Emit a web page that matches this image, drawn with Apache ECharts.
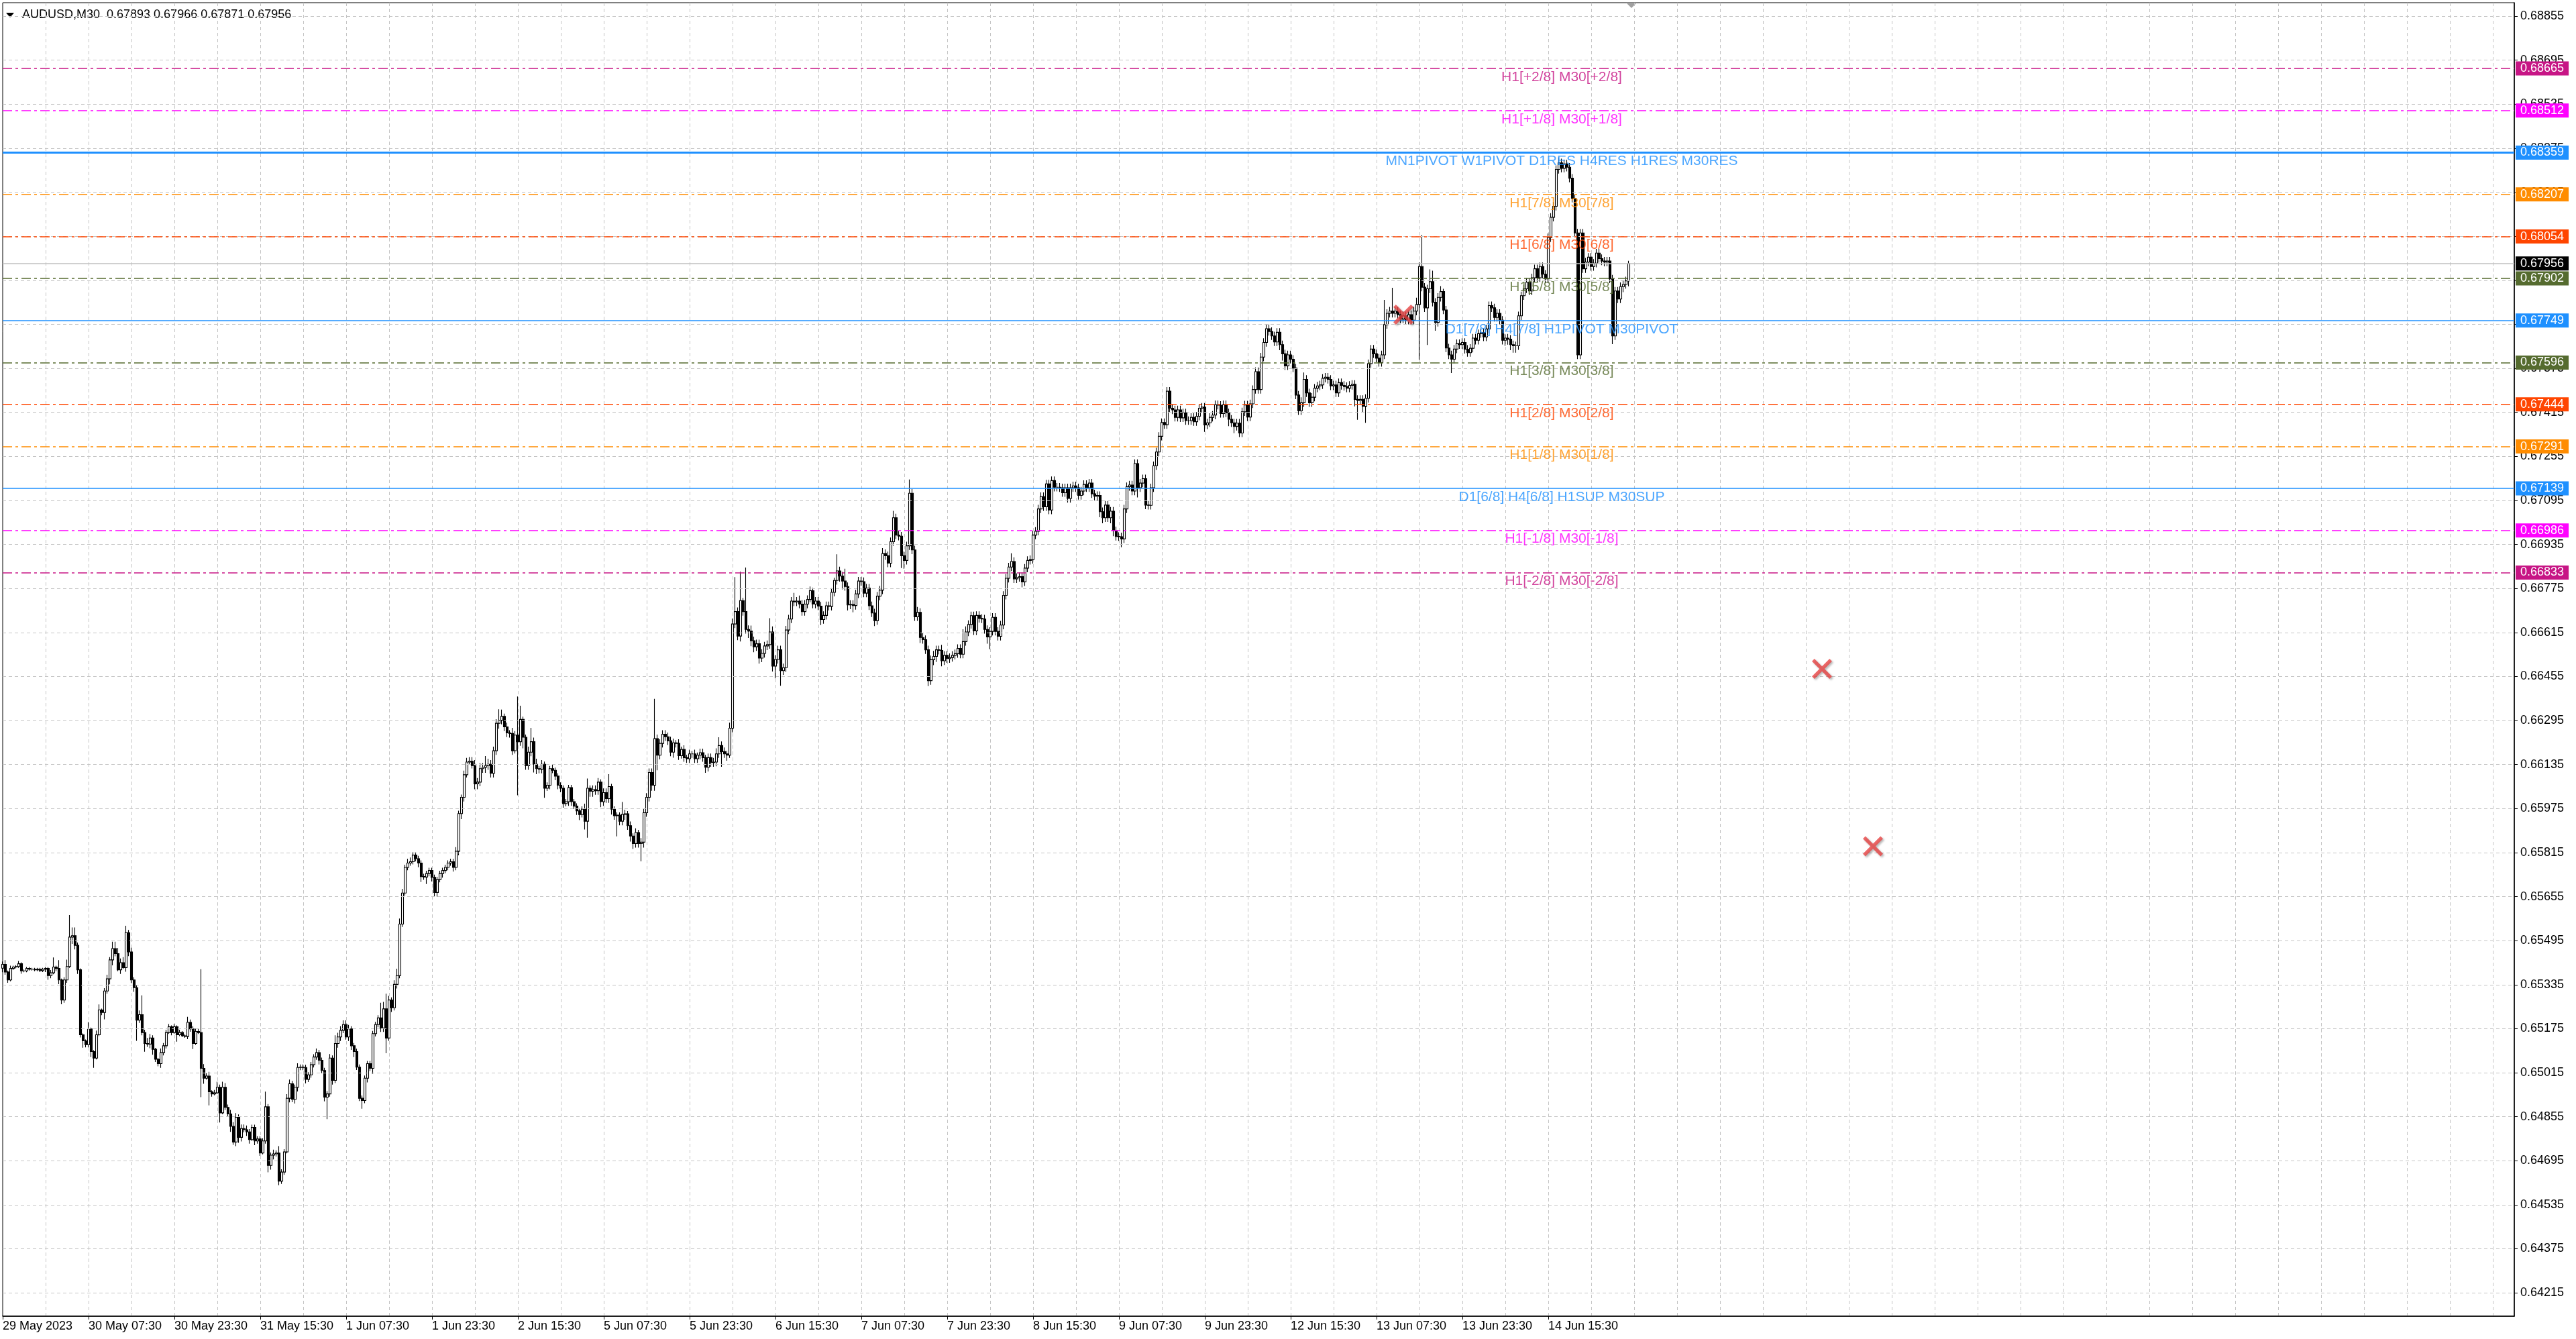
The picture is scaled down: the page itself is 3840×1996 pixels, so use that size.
<!DOCTYPE html>
<html>
<head>
<meta charset="utf-8">
<title>AUDUSD,M30</title>
<script src="https://cdn.jsdelivr.net/npm/echarts@6/dist/echarts.min.js"></script>
<style>
    html, body { margin: 0; padding: 0; background: #fff; }
    #chart { width: 3840px; height: 1996px; }
</style>
</head>
<body>
<div id="chart"></div>
<script>
// header of the chart window
var symbolName = 'AUDUSD,M30';
var headerOhlc = [0.67893, 0.67966, 0.67871, 0.67956];

// M30 bars, prices in 1e-5 units; open of a bar = close of the previous bar
var firstOpen = 65395;
var closes = [
    65409, 65381, 65352, 65394, 65399, 65401, 65411, 65385, 65385, 65394,
    65391, 65391, 65389, 65391, 65386, 65391, 65394, 65368, 65378, 65399,
    65394, 65352, 65279, 65352, 65401, 65508, 65513, 65478, 65389, 65153,
    65131, 65117, 65174, 65092, 65068, 65153, 65243, 65234, 65312, 65356,
    65425, 65466, 65448, 65389, 65415, 65397, 65524, 65454, 65352, 65324,
    65206, 65226, 65161, 65121, 65119, 65141, 65100, 65064, 65048, 65088,
    65113, 65161, 65182, 65161, 65182, 65153, 65161, 65149, 65147, 65198,
    65174, 65121, 65165, 65161, 65031, 64995, 65003, 64946, 64938, 64942,
    64962, 64869, 64962, 64889, 64865, 64820, 64763, 64853, 64780, 64812,
    64808, 64800, 64772, 64816, 64767, 64774, 64723, 64767, 64891, 64678,
    64715, 64720, 64723, 64621, 64654, 64727, 64922, 64975, 64918, 64962,
    65034, 65035, 65034, 64991, 65007, 65044, 65072, 65088, 65060, 65023,
    64926, 64938, 65068, 64987, 65121, 65145, 65169, 65190, 65145, 65174,
    65113, 65092, 65035, 64922, 64914, 64995, 65048, 65031, 65157, 65190,
    65214, 65178, 65247, 65141, 65279, 65251, 65336, 65368, 65555, 65668,
    65761, 65777, 65782, 65806, 65793, 65777, 65728, 65726, 65739, 65750,
    65725, 65670, 65717, 65739, 65750, 65761, 65777, 65782, 65761, 65820,
    65957, 66016, 66098, 66144, 66147, 66131, 66065, 66071, 66120, 66125,
    66131, 66136, 66103, 66185, 66285, 66296, 66310, 66272, 66250, 66248,
    66185, 66242, 66218, 66299, 66234, 66131, 66180, 66218, 66136, 66120,
    66118, 66136, 66049, 66060, 66120, 66114, 66093, 66060, 66049, 65993,
    66000, 66051, 66000, 65984, 65967, 65953, 65973, 65929, 66049, 66038,
    66044, 66040, 66071, 66000, 66033, 66011, 66055, 65973, 65949, 65951,
    65929, 65954, 65956, 65913, 65875, 65848, 65888, 65848, 65853, 65960,
    66016, 66106, 66060, 66229, 66169, 66212, 66245, 66236, 66221, 66180,
    66214, 66212, 66167, 66190, 66160, 66156, 66174, 66174, 66156, 66169,
    66178, 66160, 66125, 66160, 66142, 66144, 66174, 66204, 66182, 66174,
    66169, 66267, 66646, 66691, 66602, 66731, 66691, 66626, 66620, 66585,
    66563, 66574, 66522, 66539, 66566, 66571, 66617, 66493, 66517, 66552,
    66476, 66487, 66624, 66664, 66729, 66726, 66729, 66718, 66691, 66718,
    66735, 66767, 66718, 66729, 66711, 66662, 66677, 66712, 66710, 66761,
    66804, 66839, 66820, 66802, 66782, 66715, 66717, 66713, 66755, 66802,
    66800, 66758, 66776, 66712, 66686, 66658, 66747, 66769, 66902, 66894,
    66867, 66945, 67032, 66969, 66965, 66894, 66877, 66930, 67121, 66915,
    66672, 66688, 66597, 66589, 66552, 66440, 66516, 66528, 66552, 66550,
    66512, 66532, 66520, 66524, 66532, 66538, 66557, 66536, 66582, 66617,
    66644, 66676, 66621, 66677, 66666, 66664, 66626, 66599, 66619, 66670,
    66619, 66601, 66642, 66750, 66812, 66853, 66873, 66810, 66815, 66818,
    66799, 66849, 66877, 66880, 66969, 66983, 67064, 67109, 67072, 67155,
    67060, 67167, 67143, 67143, 67141, 67123, 67141, 67102, 67141, 67148,
    67141, 67113, 67129, 67153, 67141, 67158, 67119, 67110, 67113, 67054,
    67032, 67078, 67032, 67056, 66985, 66964, 66963, 66955, 67064, 67145,
    67151, 67129, 67229, 67141, 67158, 67174, 67078, 67077, 67141, 67221,
    67271, 67328, 67378, 67370, 67492, 67430, 67424, 67397, 67424, 67395,
    67413, 67385, 67385, 67397, 67381, 67401, 67430, 67434, 67369, 67377,
    67397, 67405, 67443, 67441, 67411, 67443, 67413, 67390, 67377, 67364,
    67376, 67340, 67417, 67442, 67398, 67446, 67498, 67563, 67498, 67616,
    67669, 67719, 67709, 67693, 67671, 67706, 67661, 67628, 67584, 67624,
    67608, 67576, 67478, 67421, 67450, 67535, 67486, 67450, 67470, 67503,
    67511, 67515, 67539, 67543, 67535, 67511, 67515, 67486, 67523, 67513,
    67509, 67503, 67513, 67517, 67462, 67458, 67462, 67437, 67466, 67592,
    67645, 67628, 67612, 67596, 67624, 67734, 67775, 67783, 67775, 67783,
    67770, 67754, 67766, 67750, 67770, 67750, 67783, 67807, 67945, 67870,
    67795, 67864, 67890, 67815, 67742, 67833, 67854, 67787, 67649, 67624,
    67608, 67645, 67665, 67661, 67669, 67644, 67632, 67648, 67685, 67677,
    67701, 67705, 67689, 67718, 67803, 67795, 67760, 67775, 67750, 67677,
    67685, 67681, 67661, 67657, 67657, 67766, 67839, 67864, 67888, 67856,
    67904, 67937, 67904, 67945, 67917, 67900, 68050, 68124, 68164, 68298,
    68322, 68302, 68318, 68306, 68266, 68193, 68067, 67624, 68067, 67937,
    67961, 67979, 67945, 67957, 67994, 67974, 67965, 67961, 67965, 67900,
    67693, 67856, 67827, 67872, 67880, 67893, 67956
];
// wick lengths above / below the body, one character per bar, in steps of 0.00005
var wickUp = [
    '2312112111', '1111111127', '16125g6621', '1151134123', '2554345232', '23e2432113',
    '2221212114', '2222K32312', '4243233323', '33222222b2', '2325223322', '3222222322',
    '2232633333', '2222222222', '2b5b323543', '2332222222', '2222222223', '2233334343',
    '7433385232', '43sa224a34', '2322232222', '2222222472', '3332339222', '2932323233',
    '333t333333', '3232323232', '3323334633', '244p3l2w34', '333333a433', '3333363433',
    '3323333333', '2c33933333', '3333333343', '33533333a3', '3433333433', '4333333394',
    '3333333333', '3333336333', '3333333333', '3333333333', '3333333333', '3333333333',
    '3333333333', '3333333333', '3333333333', '3333333333', '3333333333', '3333333333',
    '3333453333', '3333333333', '3333333333', '33333i33h3', '333333353n', '3398334233',
    '3333333333', '3333333333', '3333333333', '3333333333', '4333333333', '3333333333',
    '3333332'
].join('');
var wickDown = [
    '3221111211', '1111112321', '2332215332', '5224711252', '4421313323', 'f226234223',
    '2212151112', '2411l41a21', '1712242343', '2331322125', '3323221323', '3223222232',
    '3g23233223', '3422623242', '233b232322', '2222234252', '3332322232', '3432224433',
    '4333343333', '32D3833364', '3372323333', '23323426c4', '433433343f', '33434433d4',
    '3344b33333', '4332333333', '33433333b3', '4233343354', '4343333493', 'b333333333',
    '3233343333', '3346343533', '3333343333', '3333396333', '3343343443', '4333333333',
    '3333333593', '3333333333', '4333333333', '3333333333', '3333333334', '4334433633',
    '3337333333', '3333333333', '3333333353', '3333333535', '3333333333', '3333334533',
    '3333333333', '3333333333', '33335e34c3', '3333333333', '33333333E3', '3r33633333',
    'a333333333', '3333333333', '4445533333', '3333333333', '3333333333', '3333333333',
    '6333434'
].join('');
var wickDigits = '0123456789abcdefghijklmnopqrstuvwxyzABCDEFGHIJKLMNOPQRSTUVWXYZ';
var wickStep = 5;

// time axis: one label every 32 bars, grid every 16 bars
var tickLabels = ['29 May 2023', '30 May 07:30', '30 May 23:30', '31 May 15:30', '1 Jun 07:30', '1 Jun 23:30',
    '2 Jun 15:30', '5 Jun 07:30', '5 Jun 23:30', '6 Jun 15:30', '7 Jun 07:30', '7 Jun 23:30', '8 Jun 15:30',
    '9 Jun 07:30', '9 Jun 23:30', '12 Jun 15:30', '13 Jun 07:30', '13 Jun 23:30', '14 Jun 15:30'];
var labelEvery = 32;
var gridEvery = 16;
var slotCount = 937;

// price axis
var priceMin = 0.64130;
var priceMax = 0.68904;
var priceTicks = [0.64215, 0.64375, 0.64535, 0.64695, 0.64855, 0.65015, 0.65175, 0.65335, 0.65495, 0.65655,
    0.65815, 0.65975, 0.66135, 0.66295, 0.66455, 0.66615, 0.66775, 0.66935, 0.67095, 0.67255,
    0.67415, 0.67575, 0.67735, 0.67895, 0.68055, 0.68215, 0.68375, 0.68535, 0.68695, 0.68855];

// murrey / pivot levels
var levelValues = [0.68665, 0.68512, 0.68359, 0.68207, 0.68054, 0.67902, 0.67749, 0.67596, 0.67444, 0.67291, 0.67139, 0.66986, 0.66833];
var levelNames = ['H1[+2/8] M30[+2/8]', 'H1[+1/8] M30[+1/8]', 'MN1PIVOT W1PIVOT D1RES H4RES H1RES M30RES',
    'H1[7/8] M30[7/8]', 'H1[6/8] M30[6/8]', 'H1[5/8] M30[5/8]', 'D1[7/8] H4[7/8] H1PIVOT M30PIVOT',
    'H1[3/8] M30[3/8]', 'H1[2/8] M30[2/8]', 'H1[1/8] M30[1/8]', 'D1[6/8] H4[6/8] H1SUP M30SUP',
    'H1[-1/8] M30[-1/8]', 'H1[-2/8] M30[-2/8]'];
var levelColors = ['#C71585', '#FF00FF', '#1E90FF', '#FF8C00', '#FF4500', '#556B2F', '#1E90FF',
    '#556B2F', '#FF4500', '#FF8C00', '#1E90FF', '#FF00FF', '#C71585'];
var levelSolid = [false, false, true, false, false, false, true, false, false, false, true, false, false];
var levelWidths = [1.5, 1.5, 3, 1.5, 1.5, 1.5, 1.5, 1.5, 1.5, 1.5, 1.5, 1.5, 1.5];
var levelTextSlot = 581;
var bidPrice = 0.67956;

// red cross marks [bar slot, price]
var crosses = [[522, 0.67770], [678, 0.66483], [697, 0.65838]];

var FONT = '"Liberation Sans", Arial, sans-serif';

function wick(str, i) {
    var k = wickDigits.indexOf(str.charAt(i));
    return k < 0 ? 0 : k * wickStep;
}

var candles = [];
for (var i = 0; i < closes.length; i++) {
    var o = i === 0 ? firstOpen : closes[i - 1];
    var c = closes[i];
    var hi = Math.max(o, c) + wick(wickUp, i);
    var lo = Math.min(o, c) - wick(wickDown, i);
    candles.push([o / 1e5, c / 1e5, lo / 1e5, hi / 1e5]);
}

var slots = [];
for (var s = 0; s < slotCount; s++) {
    slots.push(String(s));
}

var gridLines = priceTicks.map(function (v) {
    return {yAxis: v};
});

var levelLines = levelValues.map(function (v, k) {
    return {
        yAxis: v,
        lineStyle: {
            color: levelColors[k],
            width: levelWidths[k],
            type: levelSolid[k] ? 'solid' : [14, 5, 4, 5]
        },
        label: {
            formatter: v.toFixed(5),
            backgroundColor: levelColors[k]
        }
    };
});
levelLines.push({
    yAxis: bidPrice,
    lineStyle: {color: '#C0C0C0', width: 1.5, type: 'solid'},
    label: {formatter: bidPrice.toFixed(5), backgroundColor: '#000'}
});

var levelTexts = levelValues.map(function (v, k) {
    return {
        value: [levelTextSlot, v],
        label: {color: levelColors[k], formatter: levelNames[k]}
    };
});

var chart = echarts.init(document.getElementById('chart'));
var option = {
    animation: false,
    backgroundColor: '#fff',
    grid: {
        left: 4,
        right: 92,
        top: 4,
        bottom: 34,
        show: true,
        borderColor: '#000',
        borderWidth: 1
    },
    xAxis: {
        type: 'category',
        data: slots,
        boundaryGap: false,
        axisLine: {lineStyle: {color: '#000', width: 1.5}},
        axisTick: {
            length: 5,
            lineStyle: {color: '#000'},
            interval: function (index) {
                return index % labelEvery === 0 && index / labelEvery < tickLabels.length;
            }
        },
        axisLabel: {
            interval: function (index) {
                return index % labelEvery === 0 && index / labelEvery < tickLabels.length;
            },
            formatter: function (value, index) {
                return tickLabels[index / labelEvery] || '';
            },
            align: 'left',
            margin: 6,
            color: '#000',
            fontSize: 18,
            fontFamily: FONT
        },
        splitLine: {
            show: true,
            interval: function (index) {
                return index > 0 && index % gridEvery === 0;
            },
            lineStyle: {color: '#C4C4C4', width: 1, type: [5, 4]}
        }
    },
    yAxis: {
        type: 'value',
        position: 'right',
        min: priceMin,
        max: priceMax,
        axisLine: {show: true, lineStyle: {color: '#000', width: 1.5}},
        axisTick: {show: true, length: 5, lineStyle: {color: '#000'}, customValues: priceTicks},
        axisLabel: {
            customValues: priceTicks,
            margin: 9,
            color: '#000',
            fontSize: 18,
            fontFamily: FONT,
            formatter: function (v) {
                return v.toFixed(5);
            }
        },
        splitLine: {show: false}
    },
    series: [
        {
            // horizontal grid
            type: 'line',
            data: [],
            z: 1,
            silent: true,
            markLine: {
                silent: true,
                precision: 5,
                symbol: ['none', 'none'],
                label: {show: false},
                lineStyle: {color: '#C4C4C4', width: 1, type: [5, 4]},
                data: gridLines
            }
        },
        {
            type: 'candlestick',
            data: candles,
            z: 3,
            barWidth: 2.6,
            large: false,
            itemStyle: {
                color: '#fff',
                color0: '#000',
                borderColor: '#000',
                borderColor0: '#000',
                borderWidth: 1.1
            }
        },
        {
            // levels with price tags
            type: 'line',
            data: [],
            z: 4,
            silent: true,
            markLine: {
                silent: true,
                precision: 5,
                symbol: ['none', 'none'],
                label: {
                    show: true,
                    position: 'end',
                    distance: 2,
                    color: '#fff',
                    fontSize: 18,
                    fontFamily: FONT,
                    padding: [2, 7, 1, 7]
                },
                data: levelLines
            }
        },
        {
            type: 'scatter',
            data: levelTexts,
            z: 5,
            silent: true,
            symbolSize: 1,
            itemStyle: {color: 'rgba(0,0,0,0)'},
            label: {
                show: true,
                position: 'bottom',
                distance: 2,
                fontSize: 21,
                fontFamily: FONT
            }
        },
        {
            type: 'scatter',
            data: crosses,
            z: 6,
            silent: true,
            symbol: 'path://M0,2.5 L2.5,0 L10,7.5 L17.5,0 L20,2.5 L12.5,10 L20,17.5 L17.5,20 L10,12.5 L2.5,20 L0,17.5 L7.5,10 Z',
            symbolSize: 30,
            itemStyle: {
                color: '#E84545',
                shadowColor: 'rgba(0,0,0,0.35)',
                shadowBlur: 3,
                shadowOffsetX: 2,
                shadowOffsetY: 2
            }
        }
    ],
    graphic: [
        {
            type: 'polygon',
            id: 'menuMark',
            shape: {points: [[9, 19], [21, 19], [15, 26]]},
            style: {fill: '#000'}
        },
        {
            type: 'text',
            id: 'header',
            left: 33,
            top: 13,
            style: {
                text: symbolName + '  ' + headerOhlc.map(function (v) {
                    return v.toFixed(5);
                }).join(' '),
                font: '18px ' + FONT,
                fill: '#000'
            }
        }
    ]
};
chart.setOption(option);

// chart shift marker at the top, right after the last bar
var shiftX = chart.convertToPixel({xAxisIndex: 0}, closes.length);
chart.setOption({
    graphic: [{
        type: 'polygon',
        id: 'shiftMark',
        shape: {points: [[shiftX - 8, 4], [shiftX + 8, 4], [shiftX, 12]]},
        style: {fill: '#A0A0A0'}
    }]
});
</script>
</body>
</html>
